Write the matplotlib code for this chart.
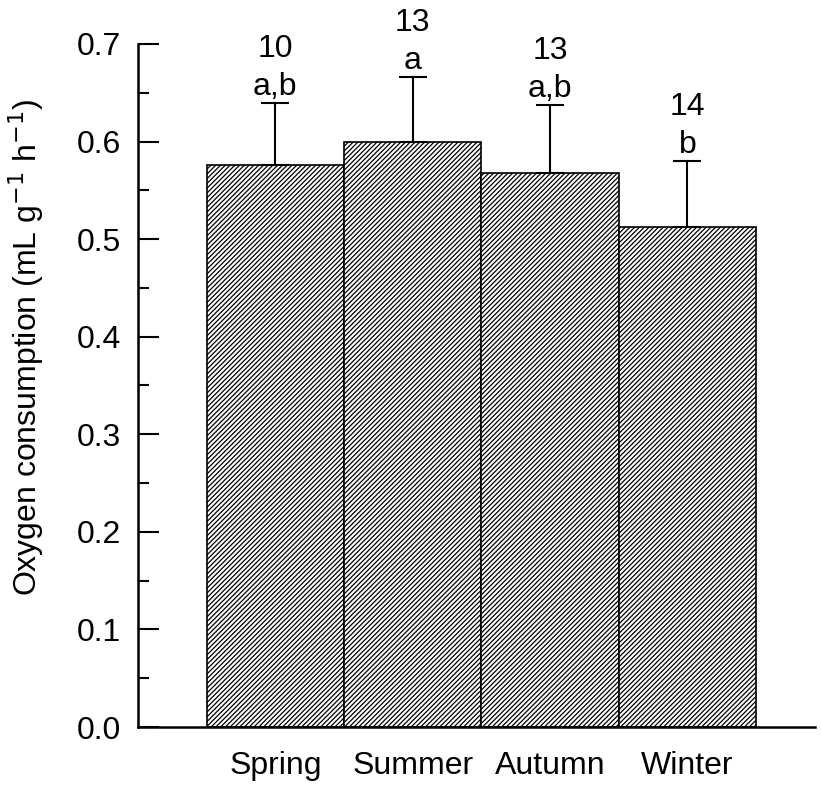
import matplotlib
matplotlib.use("Agg")
import matplotlib.pyplot as plt
from matplotlib.ticker import MultipleLocator

plt.rcParams['font.family'] = ['Liberation Sans', 'DejaVu Sans']
plt.rcParams['hatch.linewidth'] = 0.9
plt.rcParams['hatch.color'] = '#333333'

seasons = ["Spring", "Summer", "Autumn", "Winter"]
means = [0.576, 0.600, 0.568, 0.512]
errors = [0.063, 0.066, 0.069, 0.068]
n_values = ["10", "13", "13", "14"]
letters = ["a,b", "a", "a,b", "b"]

fig = plt.figure(figsize=(8.21, 7.87), dpi=100)
ax = fig.add_axes([0.168, 0.0762, 0.825, 0.868])

x = list(range(len(seasons)))
ax.bar(x, means, width=1.0, color='white', edgecolor='black', linewidth=1.2,
       hatch='///////', zorder=2)
ax.errorbar(x, means, yerr=[[0]*len(errors), errors], fmt='none', ecolor='black',
            elinewidth=1.5, capsize=10, capthick=1.5, zorder=3)

for xi, m, e, n, l in zip(x, means, errors, n_values, letters):
    ax.annotate(l, (xi, m + e), xytext=(0, 8), textcoords='offset pixels',
                ha='center', va='baseline', fontsize=23)
    ax.annotate(n, (xi, m + e), xytext=(0, 46), textcoords='offset pixels',
                ha='center', va='baseline', fontsize=23)

ax.set_xlim(-1.0, 3.93)
ax.set_ylim(0, 0.7)
ax.set_xticks(x)
ax.set_xticklabels(seasons, fontsize=23)
ax.tick_params(axis='x', length=0, pad=17)
ax.yaxis.set_major_locator(MultipleLocator(0.1))
ax.yaxis.set_minor_locator(MultipleLocator(0.05))
ax.set_yticks([0.0, 0.1, 0.2, 0.3, 0.4, 0.5, 0.6, 0.7])
ax.set_yticklabels(["0.0", "0.1", "0.2", "0.3", "0.4", "0.5", "0.6", "0.7"], fontsize=23)
ax.tick_params(axis='y', which='major', direction='in', length=15, width=1.5, pad=12)
ax.tick_params(axis='y', which='minor', direction='in', length=8, width=1.5)

for s in ['top', 'right']:
    ax.spines[s].set_visible(False)
for s in ['left', 'bottom']:
    ax.spines[s].set_linewidth(1.8)

ax.set_ylabel("Oxygen consumption (mL g$^{-1}$ h$^{-1}$)", fontsize=23)
ax.yaxis.set_label_coords(-0.136, 0.556)

fig.savefig("out.png", dpi=100)
